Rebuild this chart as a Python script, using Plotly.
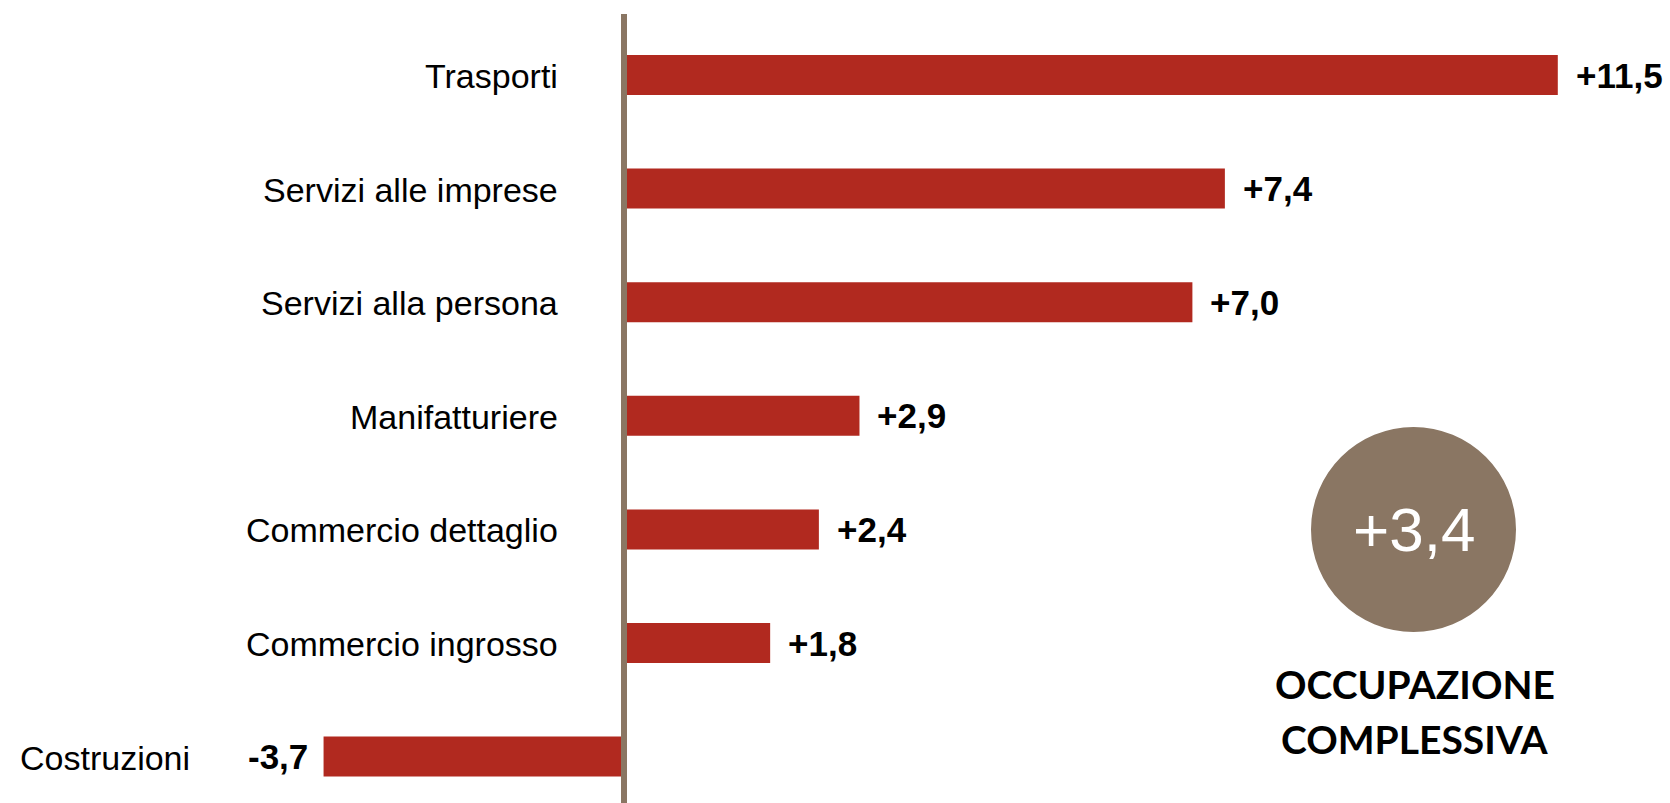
import plotly.graph_objects as go

# ---- data ----
categories = ["Trasporti", "Servizi alle imprese", "Servizi alla persona",
              "Manifatturiere", "Commercio dettaglio", "Commercio ingrosso",
              "Costruzioni"]
values = [11.5, 7.4, 7.0, 2.9, 2.4, 1.8, -3.7]
total_value = 3.4
total_caption = ["OCCUPAZIONE", "COMPLESSIVA"]

# ---- layout constants ----
W, H = 1670, 803
ZERO_PX = 624.0
PX_PER_UNIT = 81.2
ROW_PX = 113.6
FIRST_CENTER = 75.0

BAR_RED = "#B1291F"
BROWN = "#8A7663"
ARIAL = "Arial, Liberation Sans, sans-serif"


def fmt(v):
    return f"{v:+.1f}".replace(".", ",")


x_range = [-ZERO_PX / PX_PER_UNIT, (W - ZERO_PX) / PX_PER_UNIT]
y_range = [(H - FIRST_CENTER) / ROW_PX, -FIRST_CENTER / ROW_PX]

fig = go.Figure(
    go.Bar(
        x=values,
        y=categories,
        orientation="h",
        marker=dict(color=BAR_RED, line=dict(width=0)),
        width=40 / ROW_PX,
        hoverinfo="skip",
    )
)

annotations = []
for cat, v in zip(categories, values):
    # value labels
    annotations.append(dict(
        x=v, y=cat, xref="x", yref="y",
        text=f"<b>{fmt(v)}</b>", showarrow=False,
        xanchor="left" if v >= 0 else "right",
        xshift=16 if v >= 0 else -14,
        yanchor="middle",
        font=dict(family=ARIAL, size=35, color="black"),
    ))
    # category labels
    if v >= 0:
        annotations.append(dict(
            x=(560 - ZERO_PX) / PX_PER_UNIT, y=cat, xref="x", yref="y",
            text=cat, showarrow=False, xanchor="right", yanchor="middle",
            yshift=-1,
            font=dict(family=ARIAL, size=34, color="black"),
        ))
    else:
        annotations.append(dict(
            x=18 / W, y=cat, xref="paper", yref="y",
            text=cat, showarrow=False, xanchor="left", yanchor="middle",
            yshift=-1,
            font=dict(family=ARIAL, size=34, color="black"),
        ))

# circle with total
cx, cy, r = 1413.5, 529.5, 102.5
annotations.append(dict(
    x=cx / W, y=1 - cy / H, xref="paper", yref="paper",
    text=fmt(total_value), showarrow=False, xanchor="center", yanchor="middle",
    font=dict(family=ARIAL, size=62, color="white"),
))
cap_centers = [684, 739]
for txt, yc in zip(total_caption, cap_centers):
    annotations.append(dict(
        x=1415 / W, y=1 - yc / H, xref="paper", yref="paper",
        text=f"<b>{txt}</b>", showarrow=False, xanchor="center", yanchor="middle",
        font=dict(family="Lato, Open Sans, sans-serif", size=39, color="black"),
    ))

shapes = [
    dict(type="line", xref="x", yref="paper", x0=0, x1=0,
         y0=0, y1=1 - 14 / H, line=dict(color=BROWN, width=6), layer="above"),
    dict(type="circle", xref="paper", yref="paper",
         x0=(cx - r) / W, x1=(cx + r) / W, y0=1 - (cy + r) / H, y1=1 - (cy - r) / H,
         fillcolor=BROWN, line=dict(width=0), layer="above"),
]

fig.update_layout(
    width=W, height=H,
    margin=dict(l=0, r=0, t=0, b=0),
    paper_bgcolor="white", plot_bgcolor="white",
    showlegend=False,
    xaxis=dict(range=x_range, visible=False, fixedrange=True),
    yaxis=dict(range=y_range, type="category", categoryorder="array",
               categoryarray=categories, visible=False, fixedrange=True),
    annotations=annotations,
    shapes=shapes,
)

fig.write_html(
    "out.html",
    config={"displayModeBar": False},
    post_script="document.body.style.margin='0';document.body.style.overflow='hidden';",
)
